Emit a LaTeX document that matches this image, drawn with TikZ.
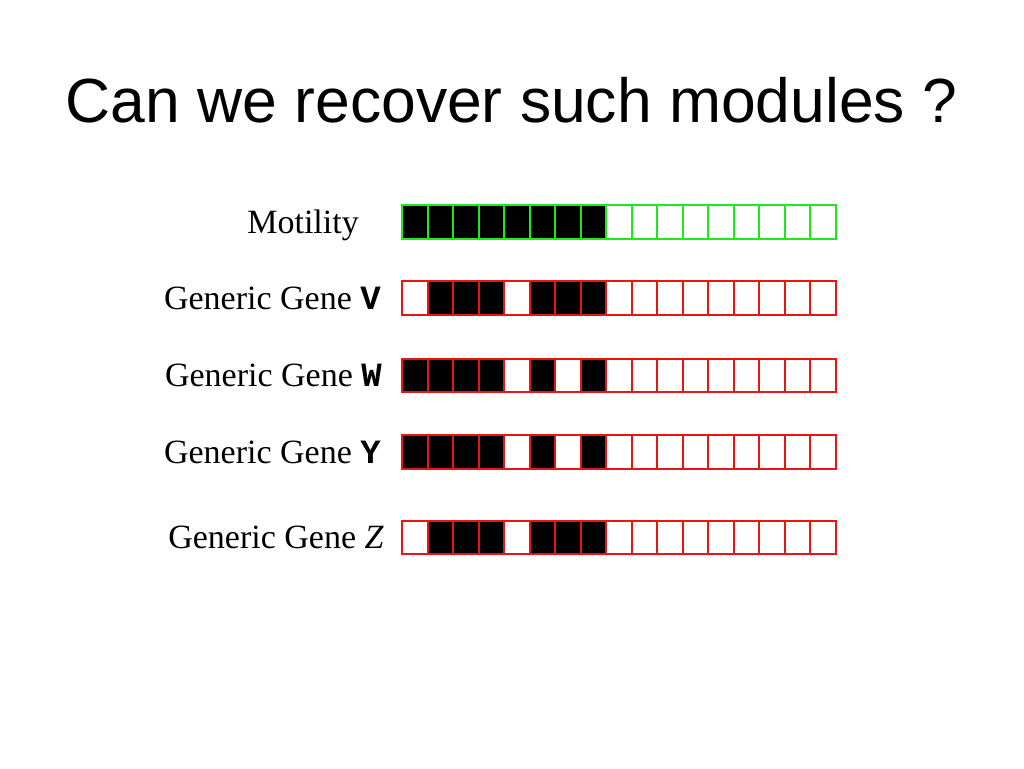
\documentclass[tikz,border=0pt]{standalone}
\usepackage{fontspec}
\setmainfont{Liberation Serif}
\setmonofont{Liberation Mono}
\newfontfamily\titlefont{Liberation Sans}
\usetikzlibrary{positioning}
\definecolor{modgreen}{RGB}{30,232,30}
\definecolor{genered}{RGB}{235,20,20}
\tikzset{
    x=1pt, y=-1pt, % one unit is one pixel of the slide
    cell/.style={draw, line width=2pt, minimum width=25.5pt, minimum height=33.5pt, inner sep=0pt, outer sep=0pt}, % one box of a profile
    b0/.style={fill=white}, % gene absent
    b1/.style={fill=black}, % gene present
    genelabel/.style={font=\fontsize{34}{40}\selectfont, inner sep=0pt, text height=22pt, text depth=0pt},
    titletext/.style={font=\titlefont\fontsize{62.4}{75}\selectfont, inner sep=0pt},
    }
% one row of 17 boxes: name, colour, y, bits
\newcommand{\cellrow}[4]{%
  \foreach \b [count=\i] in {#4} {
    \pgfmathtruncatemacro\j{\i-1}
    \ifnum\i=1
      \node[cell, draw=#2, b\b] (#11) at (414.75,#3) {};
    \else
      \node[cell, draw=#2, b\b, right=0pt of #1\j] (#1\i) {};
    \fi
  }%
}

\begin{document}
\begin{tikzpicture}
\useasboundingbox (0,0) rectangle (1024,768);
\node[titletext, anchor=base] (title) at (511.5,122) {Can we recover such modules ?};

\cellrow{m}{modgreen}{222}{1,1,1,1,1,1,1,1,0,0,0,0,0,0,0,0,0}
\cellrow{v}{genered}{298}{0,1,1,1,0,1,1,1,0,0,0,0,0,0,0,0,0}
\cellrow{w}{genered}{375.5}{1,1,1,1,0,1,0,1,0,0,0,0,0,0,0,0,0}
\cellrow{y}{genered}{452}{1,1,1,1,0,1,0,1,0,0,0,0,0,0,0,0,0}
\cellrow{z}{genered}{537.5}{0,1,1,1,0,1,1,1,0,0,0,0,0,0,0,0,0}

\node[genelabel, left=43pt of m1] (motility) {Motility};
\node[genelabel, left=21pt of v1] (genev) {Generic Gene \textbf{\texttt{V}}};
\node[genelabel, left=20pt of w1] (genew) {Generic Gene \textbf{\texttt{W}}};
\node[genelabel, left=21pt of y1] (geney) {Generic Gene \textbf{\texttt{Y}}};
\node[genelabel, left=18pt of z1] (genez) {Generic Gene \textit{Z}};
\end{tikzpicture}
\end{document}
